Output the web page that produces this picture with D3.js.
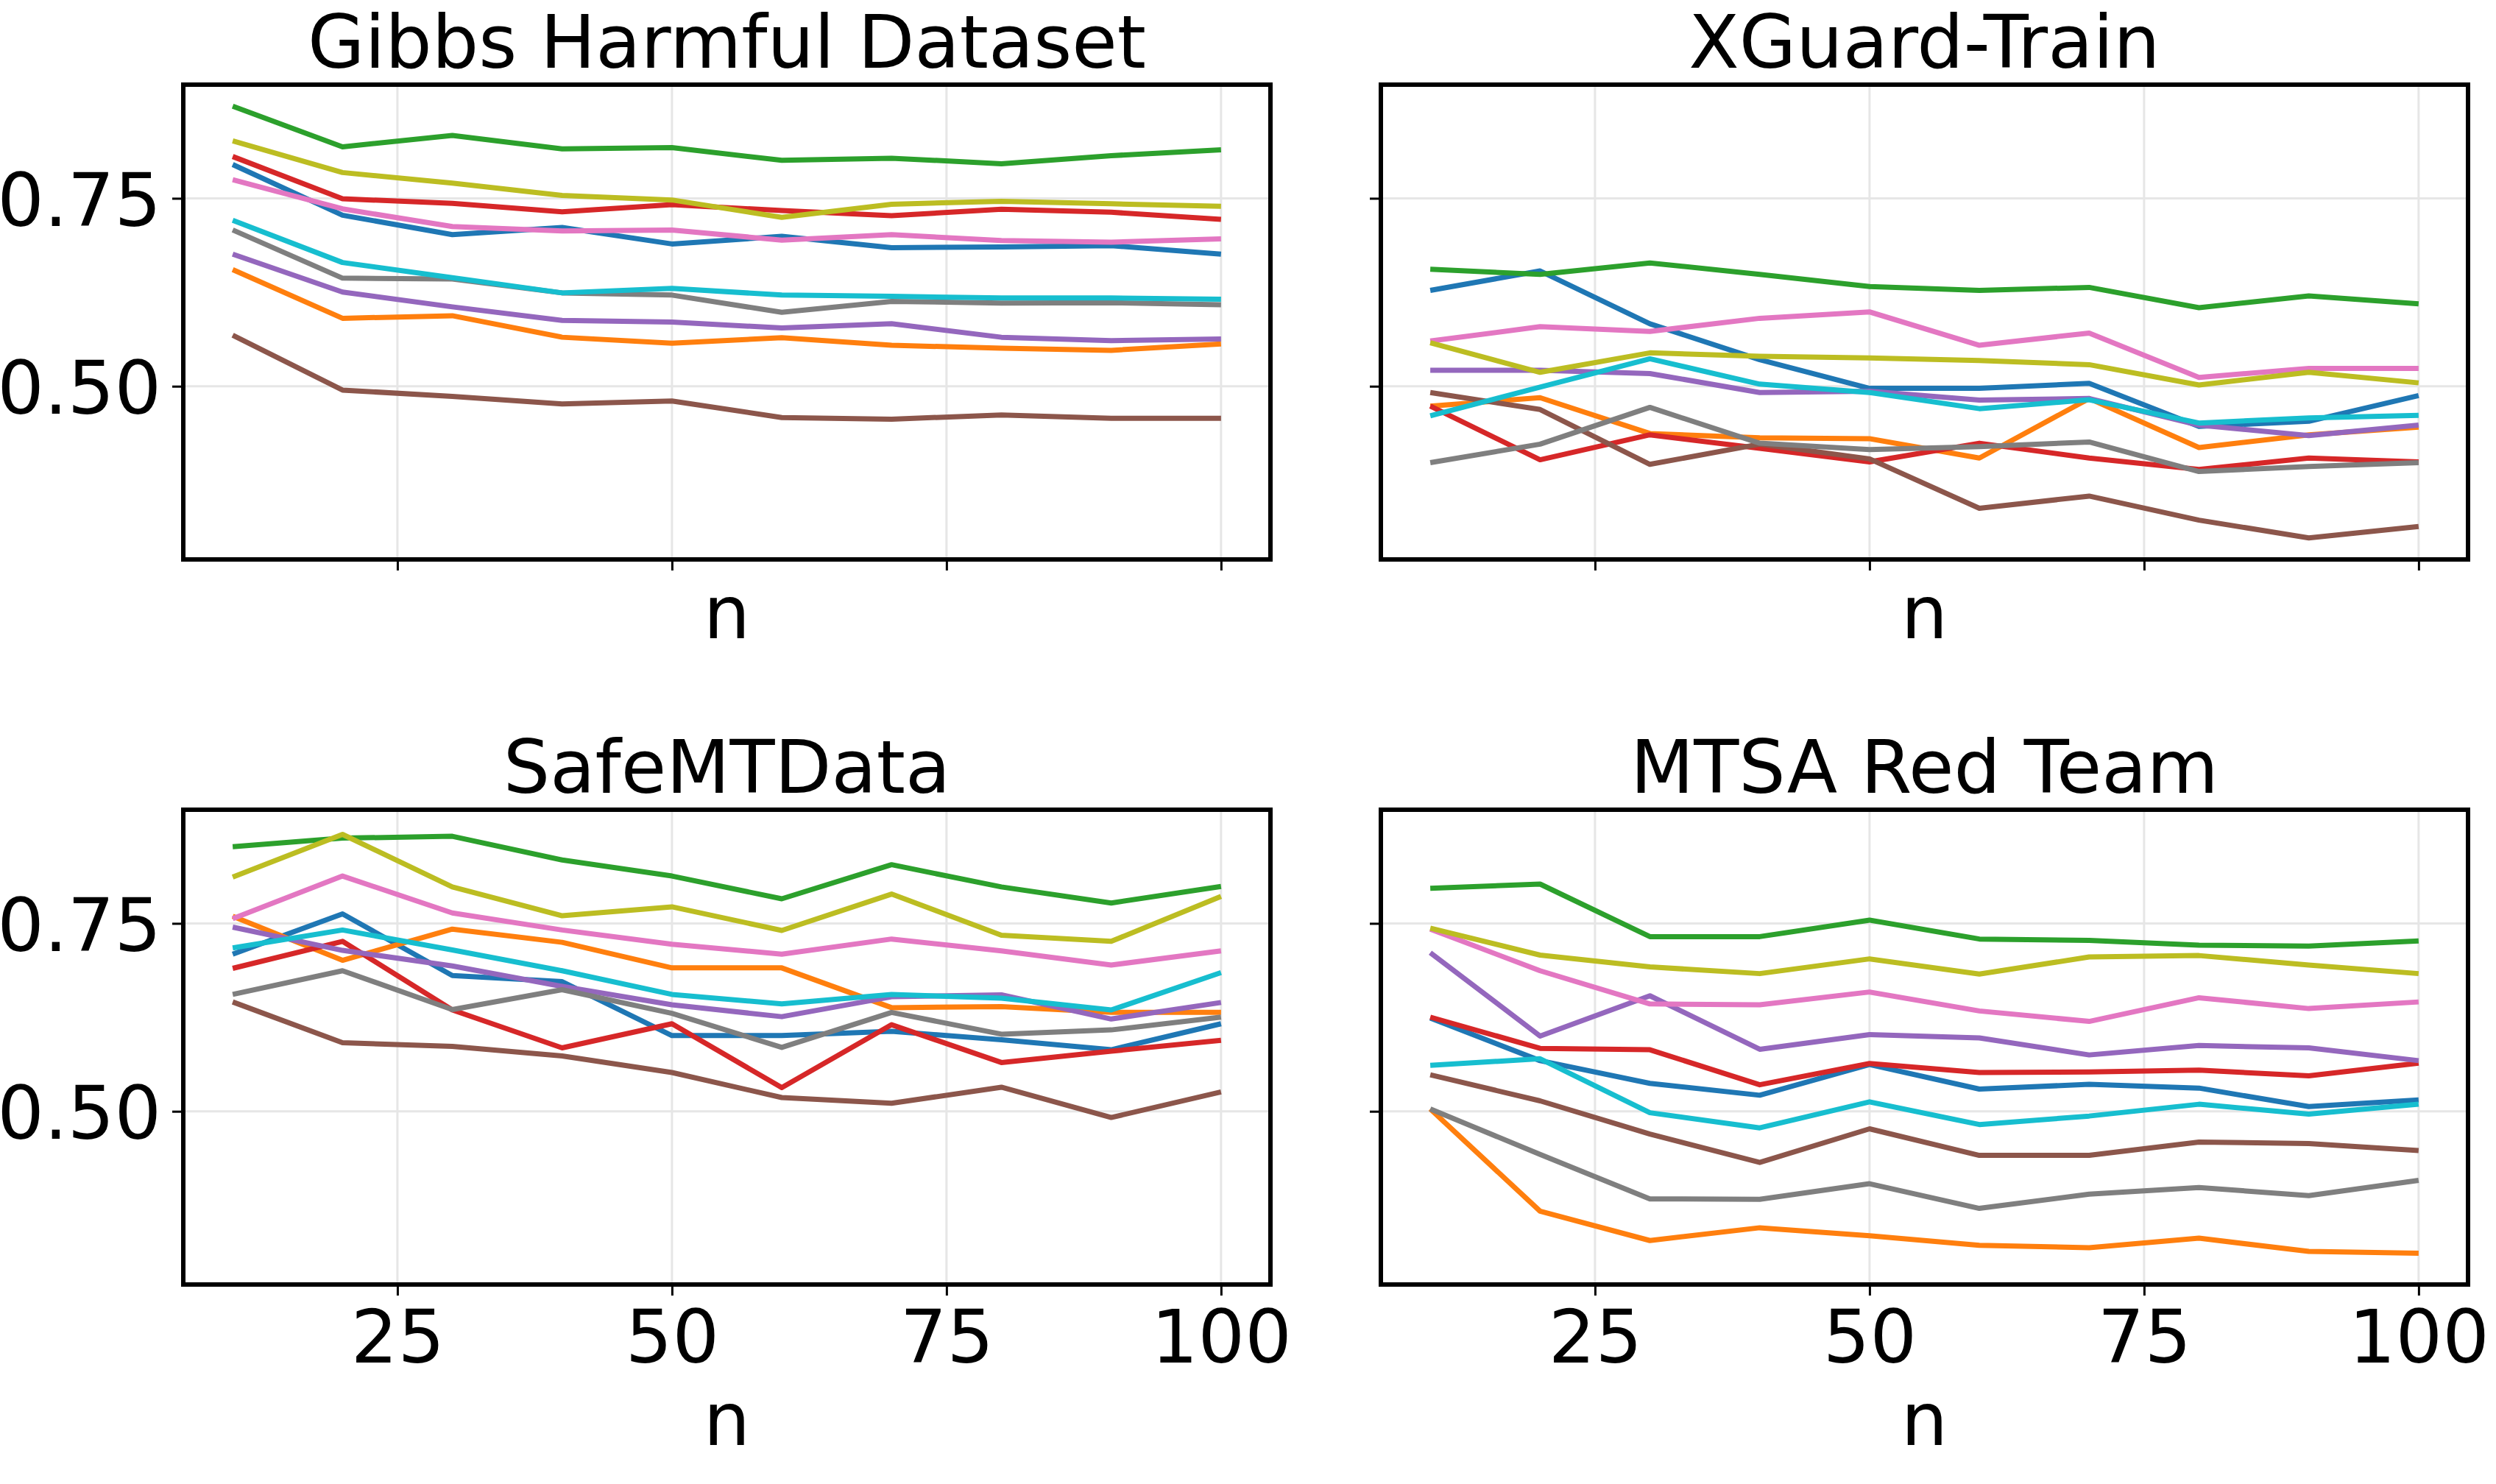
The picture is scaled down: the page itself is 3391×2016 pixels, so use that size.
<!DOCTYPE html>
<html>
<head>
<meta charset="utf-8">
<script src="https://cdn.jsdelivr.net/npm/d3@7"></script>
<style>
  body { margin: 0; background: #fff; }
  text { font-family: "DejaVu Sans", sans-serif; fill: #000; }
</style>
</head>
<body>
<div id="wrapper"></div>
<script>
// n values on the x axis
const nValues = [10, 20, 30, 40, 50, 60, 70, 80, 90, 100];
const xTicks = [25, 50, 75, 100];
const yTicks = [0.5, 0.75];

// one row per series, in the order blue, orange, green, red, purple, brown, pink, gray, olive, cyan
const gibbsHarmful = [
  [0.795, 0.7275, 0.7017, 0.7112, 0.6893, 0.6994, 0.6843, 0.6854, 0.6871, 0.6758],
  [0.6551, 0.5904, 0.5938, 0.5652, 0.5573, 0.5646, 0.5545, 0.5506, 0.5478, 0.5562],
  [0.8725, 0.8185, 0.8337, 0.8157, 0.8174, 0.8006, 0.8034, 0.796, 0.8067, 0.8146],
  [0.8056, 0.7494, 0.7433, 0.732, 0.7416, 0.7337, 0.727, 0.7354, 0.7315, 0.7219],
  [0.6758, 0.6253, 0.6056, 0.5876, 0.5854, 0.5775, 0.5831, 0.5652, 0.5607, 0.5629],
  [0.568, 0.4949, 0.4865, 0.4764, 0.4803, 0.4584, 0.4562, 0.4618, 0.4573, 0.4573],
  [0.7747, 0.736, 0.7124, 0.7067, 0.7079, 0.6944, 0.7017, 0.6938, 0.6916, 0.6961],
  [0.7079, 0.6438, 0.6427, 0.6242, 0.6213, 0.5983, 0.6129, 0.6107, 0.6112, 0.6084],
  [0.8264, 0.7843, 0.7702, 0.7539, 0.7478, 0.7247, 0.7421, 0.7461, 0.7427, 0.7393],
  [0.7208, 0.6646, 0.6444, 0.6242, 0.6303, 0.6213, 0.6197, 0.6174, 0.6174, 0.6157],
];

const xguardTrain = [
  [0.6275, 0.6534, 0.5831, 0.5354, 0.4972, 0.4972, 0.5039, 0.4466, 0.4534, 0.4876],
  [0.4736, 0.4848, 0.4371, 0.4315, 0.4303, 0.4045, 0.4837, 0.4185, 0.4354, 0.4455],
  [0.6556, 0.6489, 0.664, 0.6489, 0.6326, 0.6275, 0.6315, 0.6045, 0.6202, 0.6096],
  [0.4736, 0.4022, 0.4354, 0.4174, 0.3994, 0.4242, 0.4045, 0.3893, 0.4045, 0.3994],
  [0.5213, 0.5213, 0.5169, 0.4916, 0.4933, 0.4815, 0.4837, 0.4483, 0.4343, 0.4483],
  [0.4916, 0.4691, 0.3961, 0.423, 0.4034, 0.3376, 0.3539, 0.3219, 0.2983, 0.3135],
  [0.5601, 0.5792, 0.573, 0.5904, 0.5989, 0.5545, 0.5708, 0.5118, 0.5236, 0.5236],
  [0.3983, 0.423, 0.4719, 0.4242, 0.4157, 0.4197, 0.4258, 0.3865, 0.3933, 0.3983],
  [0.5579, 0.5185, 0.5444, 0.5399, 0.5376, 0.5343, 0.5287, 0.5017, 0.5185, 0.5045],
  [0.4607, 0.4989, 0.5365, 0.5028, 0.4916, 0.4702, 0.482, 0.4511, 0.4579, 0.4612],
];

const safeMTData = [
  [0.7091, 0.7626, 0.6807, 0.6725, 0.6008, 0.6008, 0.6064, 0.5951, 0.5819, 0.6165],
  [0.7594, 0.7009, 0.7424, 0.7248, 0.6908, 0.6908, 0.6379, 0.6392, 0.6316, 0.6316],
  [0.852, 0.8634, 0.8659, 0.8344, 0.813, 0.7827, 0.8281, 0.7985, 0.7771, 0.7991],
  [0.6902, 0.7261, 0.6348, 0.5844, 0.6165, 0.5315, 0.6152, 0.5649, 0.58, 0.5945],
  [0.745, 0.7141, 0.6933, 0.6662, 0.6417, 0.6259, 0.6524, 0.6549, 0.6228, 0.6448],
  [0.6455, 0.5913, 0.5863, 0.5737, 0.5516, 0.5183, 0.5107, 0.5321, 0.4918, 0.5258],
  [0.7563, 0.813, 0.7639, 0.7412, 0.7223, 0.7091, 0.7292, 0.7135, 0.6946, 0.7135],
  [0.6555, 0.687, 0.6354, 0.6618, 0.6304, 0.585, 0.6316, 0.6026, 0.6083, 0.6253],
  [0.8117, 0.8684, 0.7985, 0.7601, 0.772, 0.7406, 0.789, 0.7343, 0.7261, 0.7859],
  [0.7173, 0.7412, 0.7147, 0.687, 0.6555, 0.6429, 0.6555, 0.6505, 0.6348, 0.6845],
];

const mtsaRedTeam = [
  [0.6241, 0.5674, 0.5372, 0.5214, 0.5623, 0.5296, 0.5359, 0.5309, 0.5063, 0.5151],
  [0.5031, 0.3671, 0.3281, 0.3451, 0.3344, 0.3218, 0.3186, 0.3312, 0.3136, 0.3111],
  [0.7966, 0.8023, 0.7324, 0.7324, 0.7544, 0.7292, 0.7273, 0.721, 0.7198, 0.7267],
  [0.6253, 0.5838, 0.5819, 0.5353, 0.5636, 0.5516, 0.5523, 0.5548, 0.5472, 0.5642],
  [0.711, 0.6001, 0.6537, 0.5825, 0.602, 0.5976, 0.575, 0.5875, 0.5844, 0.5674],
  [0.5485, 0.5139, 0.4698, 0.432, 0.4767, 0.4414, 0.4414, 0.4591, 0.4572, 0.4477],
  [0.7424, 0.687, 0.6429, 0.6417, 0.6587, 0.6335, 0.6196, 0.6511, 0.6367, 0.6455],
  [0.5031, 0.4427, 0.3835, 0.3829, 0.4037, 0.3709, 0.3898, 0.3986, 0.3879, 0.4081],
  [0.7437, 0.7078, 0.6921, 0.6832, 0.7028, 0.6826, 0.7053, 0.7072, 0.6946, 0.6832],
  [0.5611, 0.5699, 0.4981, 0.478, 0.5126, 0.4824, 0.4937, 0.5094, 0.4962, 0.5094],
];

const panels = [
  { title: "Gibbs Harmful Dataset", rows: gibbsHarmful, col: 0, row: 0 },
  { title: "XGuard-Train", rows: xguardTrain, col: 1, row: 0 },
  { title: "SafeMTData", rows: safeMTData, col: 0, row: 1 },
  { title: "MTSA Red Team", rows: mtsaRedTeam, col: 1, row: 1 },
];

const width = 3391;
const height = 2016;
const fontSize = 100;

const layout = {
  lefts: [249, 1876],
  tops: [115, 1100],
  plotWidth: 1477,
  plotHeight: 645,
};

const color = d3.scaleOrdinal().domain(d3.range(10)).range(d3.schemeCategory10);

const svg = d3
  .select("#wrapper")
  .append("svg")
  .attr("width", width)
  .attr("height", height)
  .style("background", "#fff");

// shared axes, matplotlib style 5% margins
const xExtent = d3.extent(nValues);
const xPad = (xExtent[1] - xExtent[0]) * 0.05;
const allValues = panels.flatMap((p) => p.rows.flat());
const yExtent = d3.extent(allValues);
const yPad = (yExtent[1] - yExtent[0]) * 0.05;

const xScale = d3
  .scaleLinear()
  .domain([xExtent[0] - xPad, xExtent[1] + xPad])
  .range([0, layout.plotWidth]);

const yScale = d3
  .scaleLinear()
  .domain([yExtent[0] - yPad, yExtent[1] + yPad])
  .range([layout.plotHeight, 0]);

const lineGenerator = d3
  .line()
  .x((d, i) => xScale(nValues[i]))
  .y((d) => yScale(d));

panels.forEach((panel) => {
  const bounds = svg
    .append("g")
    .attr(
      "transform",
      `translate(${layout.lefts[panel.col]}, ${layout.tops[panel.row]})`
    );

  // grid
  const grid = bounds.append("g").attr("class", "grid");
  grid
    .selectAll(".gx")
    .data(xTicks)
    .join("line")
    .attr("x1", (d) => xScale(d))
    .attr("x2", (d) => xScale(d))
    .attr("y1", 0)
    .attr("y2", layout.plotHeight)
    .attr("stroke", "#e6e6e6")
    .attr("stroke-width", 3);
  grid
    .selectAll(".gy")
    .data(yTicks)
    .join("line")
    .attr("x1", 0)
    .attr("x2", layout.plotWidth)
    .attr("y1", (d) => yScale(d))
    .attr("y2", (d) => yScale(d))
    .attr("stroke", "#e6e6e6")
    .attr("stroke-width", 3);

  // series
  bounds
    .append("g")
    .selectAll("path")
    .data(panel.rows)
    .join("path")
    .attr("fill", "none")
    .attr("stroke", (d, i) => color(i))
    .attr("stroke-width", 7)
    .attr("stroke-linejoin", "round")
    .attr("stroke-linecap", "butt")
    .attr("d", lineGenerator);

  // axes
  const xAxisGenerator = d3
    .axisBottom(xScale)
    .tickValues(xTicks)
    .tickSize(15)
    .tickFormat(panel.row === 1 ? d3.format("") : "");

  const xAxis = bounds
    .append("g")
    .attr("transform", `translate(0, ${layout.plotHeight})`)
    .call(xAxisGenerator);
  xAxis.select(".domain").remove();
  xAxis.selectAll(".tick line").attr("stroke", "#000").attr("stroke-width", 3);
  xAxis
    .selectAll(".tick text")
    .attr("y", 106)
    .attr("dy", 0)
    .style("font-size", `${fontSize}px`)
    .style("font-family", "'DejaVu Sans', sans-serif");

  const yAxisGenerator = d3
    .axisLeft(yScale)
    .tickValues(yTicks)
    .tickSize(15)
    .tickPadding(15)
    .tickFormat(panel.col === 0 ? d3.format(".2f") : "");

  const yAxis = bounds.append("g").call(yAxisGenerator);
  yAxis.select(".domain").remove();
  yAxis.selectAll(".tick line").attr("stroke", "#000").attr("stroke-width", 3);
  yAxis
    .selectAll(".tick text")
    .attr("dy", "0.37em")
    .style("font-size", `${fontSize}px`)
    .style("font-family", "'DejaVu Sans', sans-serif");

  // frame
  bounds
    .append("rect")
    .attr("width", layout.plotWidth)
    .attr("height", layout.plotHeight)
    .attr("fill", "none")
    .attr("stroke", "#000")
    .attr("stroke-width", 6);

  bounds
    .append("text")
    .attr("x", layout.plotWidth / 2)
    .attr("y", -23)
    .attr("text-anchor", "middle")
    .style("font-size", `${fontSize}px`)
    .text(panel.title);

  bounds
    .append("text")
    .attr("x", layout.plotWidth / 2)
    .attr("y", layout.plotHeight + (panel.row === 1 ? 218 : 107))
    .attr("text-anchor", "middle")
    .style("font-size", `${fontSize}px`)
    .text("n");
});
</script>
</body>
</html>
